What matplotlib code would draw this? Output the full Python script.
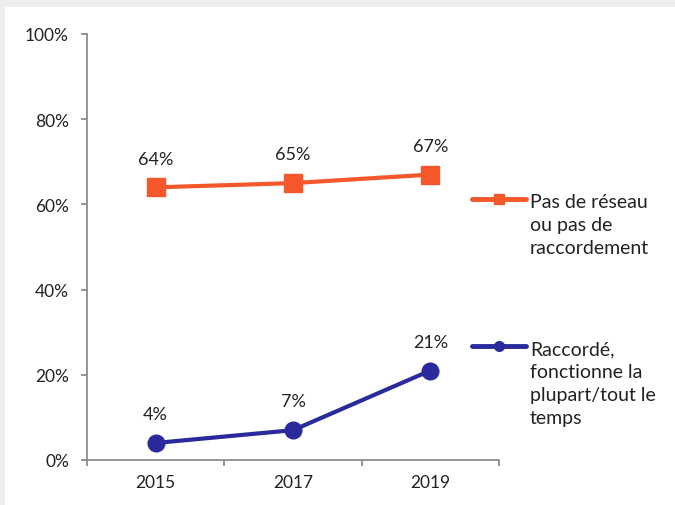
import matplotlib
matplotlib.use("Agg")
import matplotlib.pyplot as plt
from matplotlib.lines import Line2D
from matplotlib.patches import Rectangle

years = ["2015", "2017", "2019"]
no_network = [64, 65, 67]
connected = [4, 7, 21]
labels = ["Pas de réseau\nou pas de\nraccordement",
          "Raccordé,\nfonctionne la\nplupart/tout le\ntemps"]
y_ticks = [0, 20, 40, 60, 80, 100]

ORANGE = "#F4582A"
NAVY = "#2A2A9C"
AXIS = "#8C8C8C"
TXT = "#222222"

plt.rcParams["font.family"] = ["Lato", "DejaVu Sans"]

W, H = 675, 506
fig = plt.figure(figsize=(W / 100, H / 100), dpi=100, facecolor="#EEEEEE")
fig.add_artist(Rectangle((5 / W, 0), 1, 1 - 8 / H, transform=fig.transFigure,
                         facecolor="white", edgecolor="none", zorder=0))

ax = fig.add_axes([87 / W, 1 - 461 / H, (499 - 87) / W, (461 - 35) / H])
ax.set_facecolor("none")
x = list(range(len(years)))

ax.plot(x, no_network, color=ORANGE, lw=3, marker="s", ms=13, clip_on=False)
ax.plot(x, connected, color=NAVY, lw=3, marker="o", ms=12, clip_on=False)

for series in (no_network, connected):
    for xi, v in zip(x, series):
        ax.annotate(f"{v}%", (xi, v), xytext=(0, 15), textcoords="offset points",
                    ha="center", va="bottom", fontsize=13, color=TXT)

ax.set_xlim(-0.5, len(years) - 0.5)
ax.set_ylim(0, 100)
ax.set_yticks(y_ticks)
ax.set_yticklabels([f"{t}%" for t in y_ticks], fontsize=12.5, color=TXT)
ax.set_xticks(x)
ax.set_xticklabels(years, fontsize=12.5, color=TXT)
ax.tick_params(axis="x", which="major", length=0, pad=10)
ax.set_xticks([i - 0.5 for i in range(len(years) + 1)], minor=True)
ax.tick_params(axis="x", which="minor", length=4, color=AXIS, width=1.3)
ax.tick_params(axis="y", length=4, color=AXIS, width=1.3, pad=9)
for side in ("top", "right"):
    ax.spines[side].set_visible(False)
for side in ("left", "bottom"):
    ax.spines[side].set_color(AXIS)
    ax.spines[side].set_linewidth(1.3)

# legend drawn by hand, entries sit far apart
for (yy, col, mk), lab in zip([(200, ORANGE, "s"), (347, NAVY, "o")], labels):
    fy = 1 - yy / H
    fig.add_artist(Line2D([472 / W, 526 / W], [fy, fy], color=col, lw=3.5,
                          solid_capstyle="round"))
    fig.add_artist(Line2D([499 / W], [fy], color=col, marker=mk, ms=7))
    fig.text(530 / W, fy + 6 / H, lab, ha="left", va="top", fontsize=14,
             color=TXT, linespacing=1.42)

fig.savefig("out.png", dpi=100, facecolor=fig.get_facecolor())
